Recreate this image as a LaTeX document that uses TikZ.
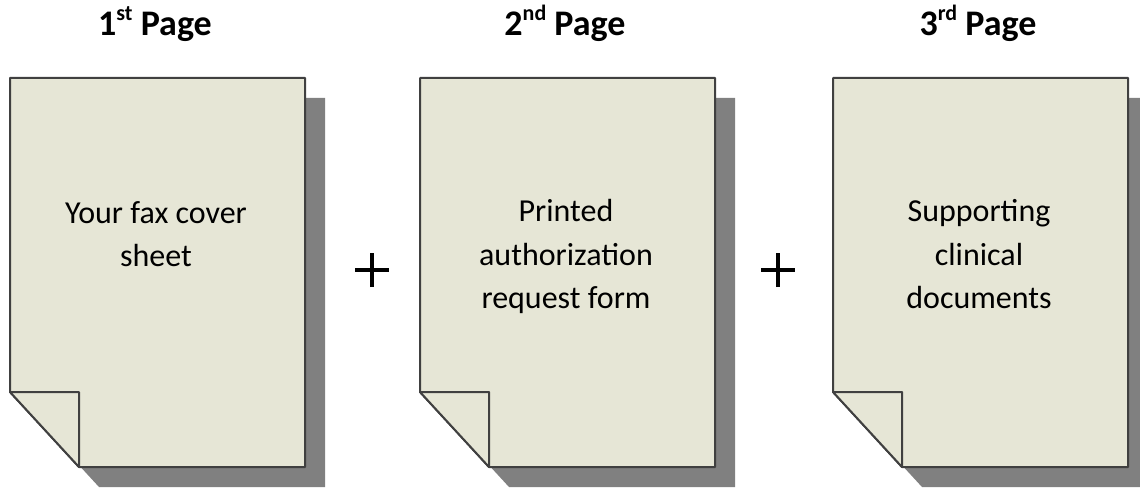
\documentclass[tikz,border=0pt]{standalone}
\usepackage{fontspec}
\setmainfont{Carlito}
\definecolor{paper}{RGB}{230,230,214}
\definecolor{edge}{RGB}{64,64,64}
\definecolor{shade}{RGB}{128,128,128}
\newcommand{\supr}[1]{\raisebox{0.42em}{\fontsize{22}{24}\selectfont\bfseries #1}}
\begin{document}
\begin{tikzpicture}[x=1pt,y=-1pt,
  title/.style={font=\fontsize{36}{40}\selectfont\bfseries, anchor=base, inner sep=0pt},
  body/.style={font=\fontsize{32}{43}\selectfont, anchor=base, inner sep=0pt},
  plus/.style={line width=4.5pt, black},
  pagefill/.style={fill=paper, draw=edge, line width=2pt, line join=round},
  shadowfill/.style={fill=shade, draw=none}]
\useasboundingbox (0,0) rectangle (1140,489);
\clip (0,0) rectangle (1140,489);
\foreach \px/\nm in {10/a,420/b,833/c}{
  \fill[shadowfill] (\px+20,98) -- (\px+315,98) -- (\px+315,487) -- (\px+89,487) -- (\px+20,412) -- cycle;
  \draw[pagefill] (\px,78) -- (\px+295,78) -- (\px+295,467) -- (\px+69,467) -- (\px,392) -- cycle;
  \draw[pagefill] (\px,392) -- (\px+69,392) -- (\px+69,467) -- cycle;
}
% titles
\node[title] (t1) at (155,36) {1\supr{st} Page};
\node[title] (t2) at (565,36) {2\supr{nd} Page};
\node[title] (t3) at (978,36) {3\supr{rd} Page};
% page 1 text
\node[body] (a1) at (156,223) {Your fax cover};
\node[body] (a2) at (156,266) {sheet};
% page 2 text
\node[body] (b1) at (566,222) {Printed};
\node[body] (b2) at (566,265) {authorization};
\node[body] (b3) at (566,308) {request form};
% page 3 text
\node[body] (c1) at (979,222) {Supporting};
\node[body] (c2) at (979,265) {clinical};
\node[body] (c3) at (979,308) {documents};
% plus signs
\coordinate (p1) at (372,270);
\coordinate (p2) at (778,270);
\foreach \p in {p1,p2}{
  \draw[plus] ([xshift=-17pt]\p) -- ([xshift=17pt]\p);
  \draw[plus] ([yshift=-17pt]\p) -- ([yshift=17pt]\p);
}
\end{tikzpicture}
\end{document}
